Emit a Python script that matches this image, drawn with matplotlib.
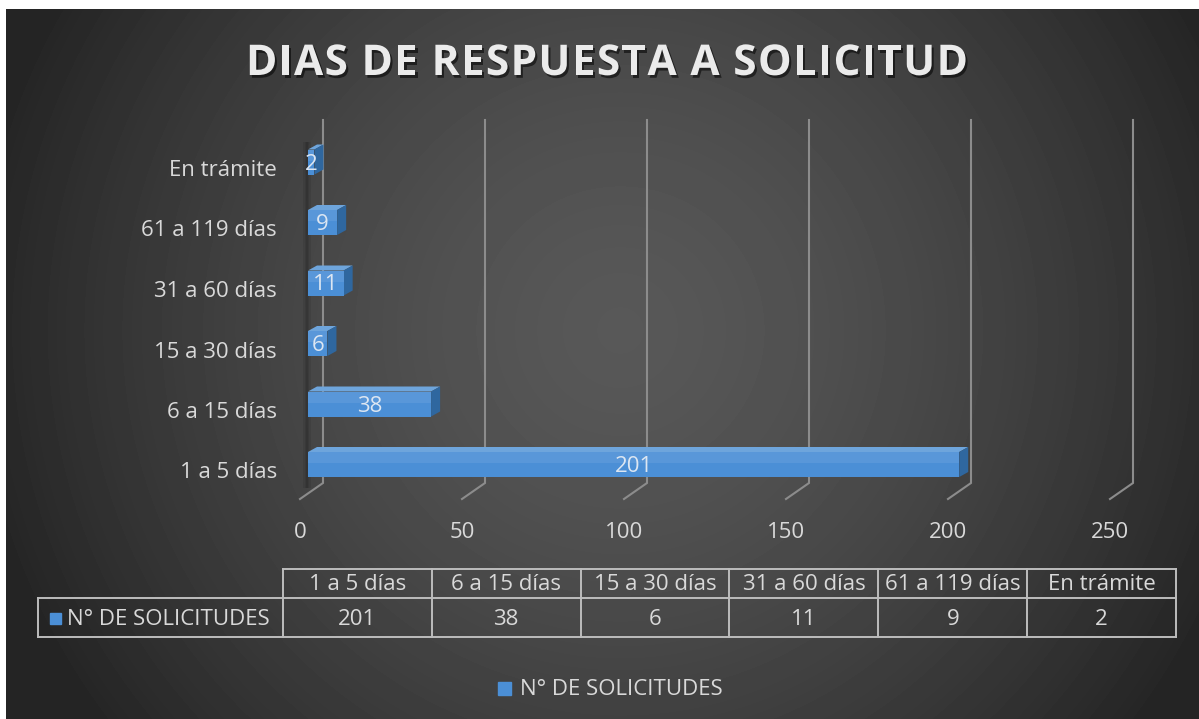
import numpy as np
import matplotlib
matplotlib.use("Agg")
import matplotlib.pyplot as plt
from matplotlib.transforms import ScaledTranslation, IdentityTransform, blended_transform_factory
from matplotlib.patches import Polygon, Rectangle
from matplotlib.lines import Line2D
import matplotlib.patheffects as pe

# ---------------- data ----------------
categories = ["1 a 5 días", "6 a 15 días", "15 a 30 días", "31 a 60 días", "61 a 119 días", "En trámite"]
values = [201, 38, 6, 11, 9, 2]
x_ticks = [0, 50, 100, 150, 200, 250]
series_name = "N° DE SOLICITUDES"
title = "DIAS DE RESPUESTA A SOLICITUD"

# ---------------- figure ----------------
W, H = 1199, 719
DPI = 100
fig = plt.figure(figsize=(W / DPI, H / DPI), dpi=DPI, facecolor="white")
FONT = "Open Sans"
FS = 16
TXT = "#d9d9d9"
GRID = "#8c8c8c"
BLUE = "#4b8fd6"
BLUE_TOP = "#6ea5dc"
BLUE_SIDE = "#2f679f"


def fx(px):
    return px / W


def fy(py):
    return 1 - py / H


def disp_y(py):
    return H - py


# background with radial gradient
bg_ax = fig.add_axes([fx(6), 0, 1 - fx(6), 1 - 9 / H], zorder=-5)
yy, xx = np.mgrid[9:H, 6:W]
r = np.hypot((xx - 620) / 650.0, (yy - 330) / 650.0)
t = np.clip(r, 0, 1) ** 1.5
c = (0x58 * (1 - t) + 0x25 * t) / 255.0
bg_ax.imshow(c, cmap="gray", vmin=0, vmax=1, aspect="auto", interpolation="bilinear")
bg_ax.axis("off")

# main axes (front floor plane): value 0 -> px 300, 250 -> px 1110
AX_L, AX_R, AX_T, AX_B = 300, 1110, 120, 499
ax = fig.add_axes([fx(AX_L), fy(AX_B), (AX_R - AX_L) / W, (AX_B - AX_T) / H])
ax.set_xlim(0, 250)
SP = 60.5
Y0 = 464.5
ax.set_ylim(-(AX_B - Y0) / SP, (Y0 - AX_T) / SP)
ax.axis("off")

DX_BACK, DY_BACK = 23, 16  # floor depth in px

# gridlines (back wall + floor diagonal)
for v in x_ticks:
    fxp, fyp = ax.transData.transform((v, ax.get_ylim()[0]))
    xs = [fxp, fxp + DX_BACK, fxp + DX_BACK]
    ys = [fyp, fyp + DY_BACK, disp_y(AX_T)]
    ln = Line2D(xs, ys, transform=IdentityTransform(), color=GRID, lw=1.5,
                solid_joinstyle="miter", clip_on=False, zorder=1)
    ax.add_line(ln)

# soft shadow along the bars' base
x0d, _ = ax.transData.transform((0, 0))
for k, a in enumerate([0.08, 0.16, 0.24, 0.16, 0.08]):
    ax.add_patch(Rectangle((x0d + 3 + k * 1.5, disp_y(488)), 1.5, 488 - 142,
                           transform=IdentityTransform(), color="black", alpha=a,
                           lw=0, clip_on=False, zorder=1.5))

# bars
bar_h = 25 / SP
off_front = ScaledTranslation(8 / DPI, 0, fig.dpi_scale_trans)
tf_front = ax.transData + off_front
ypos = np.arange(len(categories))
bars = ax.barh(ypos, values, height=bar_h, left=0, color=BLUE, transform=tf_front,
               zorder=3, edgecolor="none")
DX_B, DY_B = 9, 5
for i, v in enumerate(values):
    (xl, yb), (xr, yt) = tf_front.transform([(0, i - bar_h / 2), (v, i + bar_h / 2)])
    top = Polygon([(xl, yt), (xr, yt), (xr + DX_B, yt + DY_B), (xl + DX_B, yt + DY_B)],
                  closed=True, transform=IdentityTransform(), facecolor=BLUE_TOP,
                  edgecolor="none", clip_on=False, zorder=2.9)
    side = Polygon([(xr, yb), (xr, yt), (xr + DX_B, yt + DY_B), (xr + DX_B, yb + DY_B)],
                   closed=True, transform=IdentityTransform(), facecolor=BLUE_SIDE,
                   edgecolor="none", clip_on=False, zorder=2.9)
    ax.add_patch(top)
    ax.add_patch(side)
    ax.add_patch(Rectangle((xl, yb + (yt - yb) * 0.55), xr - xl, (yt - yb) * 0.45,
                           transform=IdentityTransform(), facecolor="white", alpha=0.08,
                           edgecolor="none", clip_on=False, zorder=3.1))

# data labels
lab_tf = tf_front + ScaledTranslation(0, -7.5 / DPI, fig.dpi_scale_trans)
for i, v in enumerate(values):
    ax.text(v / 2, i, str(v), transform=lab_tf, ha="center", va="baseline",
            color="#dce6f2", fontsize=FS, family=FONT, zorder=5, clip_on=False)

# category labels
cat_tf = blended_transform_factory(fig.transFigure, ax.transData) + \
    ScaledTranslation(0, -14 / DPI, fig.dpi_scale_trans)
for i, cname in enumerate(categories):
    ax.text(fx(277), i, cname, transform=cat_tf, ha="right", va="baseline",
            color=TXT, fontsize=FS, family=FONT, clip_on=False)

# value-axis tick labels
tick_tf = blended_transform_factory(ax.transData, fig.transFigure)
for v in x_ticks:
    ax.text(v, fy(538), str(v), transform=tick_tf, ha="center", va="baseline",
            color=TXT, fontsize=FS, family=FONT, clip_on=False)

# title with letter spacing
TFS = 30.5
renderer = fig.canvas.get_renderer()


def text_w(s):
    tt = fig.text(0, 0, s, fontsize=TFS, family=FONT, fontweight="bold")
    w = tt.get_window_extent(renderer).width
    tt.remove()
    return w


base = text_w("HH")
adv = [text_w("H" + ch + "H") - base for ch in title]
TITLE_L, TITLE_R = 246, 968
spacing = ((TITLE_R - TITLE_L) - sum(adv)) / (len(title) - 1)
xcur = TITLE_L
shadow = [pe.withSimplePatchShadow(offset=(1.5, -2), shadow_rgbFace="black", alpha=0.55)]
for ch, a in zip(title, adv):
    if ch != " ":
        fig.text(fx(xcur), fy(75), ch, ha="left", va="baseline", color="#ebebeb",
                 fontsize=TFS, family=FONT, fontweight="bold", path_effects=shadow)
    xcur += a + spacing

# ---------------- data table ----------------
TL, TR = 283, 1176
ROW0_T, ROW0_B, ROW1_B = 569, 598, 637
LBL_L = 38
ncol = len(categories)
colw = (TR - TL) / ncol
TCOL = "#bdbdbd"


def hline(x1, x2, y):
    fig.add_artist(Line2D([fx(x1), fx(x2)], [fy(y), fy(y)], color=TCOL, lw=1.4))


def vline(x, y1, y2):
    fig.add_artist(Line2D([fx(x), fx(x)], [fy(y1), fy(y2)], color=TCOL, lw=1.4))


hline(TL, TR, ROW0_T)
hline(LBL_L, TR, ROW0_B)
hline(LBL_L, TR, ROW1_B)
vline(LBL_L, ROW0_B, ROW1_B)
for k in range(ncol + 1):
    vline(TL + k * colw, ROW0_T, ROW1_B)
for k, (cname, v) in enumerate(zip(categories, values)):
    cx = TL + (k + 0.5) * colw
    fig.text(fx(cx), fy(590), cname, ha="center", va="baseline", color=TXT,
             fontsize=FS, family=FONT)
    fig.text(fx(cx), fy(625), str(v), ha="center", va="baseline", color=TXT,
             fontsize=FS, family=FONT)
fig.add_artist(Rectangle((fx(50), fy(624)), fx(11), 11 / H, color=BLUE))
fig.text(fx(67), fy(625), series_name, ha="left", va="baseline", color=TXT,
         fontsize=FS, family=FONT)

# ---------------- legend ----------------
fig.add_artist(Rectangle((fx(498), fy(695)), fx(13), 13 / H, color=BLUE))
fig.text(fx(520), fy(695), series_name, ha="left", va="baseline", color=TXT,
         fontsize=FS, family=FONT)

fig.savefig("out.png", dpi=DPI, facecolor="white")
